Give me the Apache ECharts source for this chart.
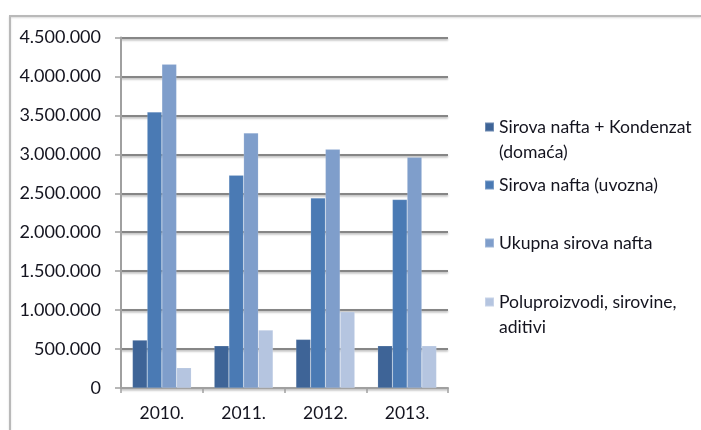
<!DOCTYPE html>
<html>
<head>
<meta charset="utf-8">
<script src="https://cdn.jsdelivr.net/npm/echarts@6/dist/echarts.min.js"></script>
<style>html,body{margin:0;padding:0;background:#fff}#c{width:701px;height:430px}</style>
</head>
<body>
<div id="c"></div>
<script>
var categories = ['2010.', '2011.', '2012.', '2013.'];
var seriesNames = ['Sirova nafta + Kondenzat (domaća)', 'Sirova nafta (uvozna)', 'Ukupna sirova nafta', 'Poluproizvodi, sirovine, aditivi'];
var domaca = [615000, 542000, 624000, 542000];
var uvozna = [3542000, 2731000, 2440000, 2419000];
var ukupna = [4157000, 3273000, 3064000, 2961000];
var poluproizvodi = [260000, 744000, 978000, 542000];
var legendLabels = ['Sirova nafta + Kondenzat\n(domaća)', 'Sirova nafta (uvozna)', 'Ukupna sirova nafta', 'Poluproizvodi, sirovine,\naditivi'];
var colors = ['#3e6497', '#4a7ab4', '#7f9ecb', '#b5c5e0'];

var FONT = 'Lato';
var TEXT = '#14141f';
var allData = [domaca, uvozna, ukupna, poluproizvodi];

function fmt(v) {
  return String(v).replace(/\B(?=(\d{3})+(?!\d))/g, '.');
}

// icon: square at top, with an invisible tiny anchor lower down so the
// square lines up with the first of two text lines
var twoLineIcon = 'path://M0,0h9v9h-9z M0,34h0.01v0.01h-0.01z';

var legendTops = [127, 185, 243, 302];
var legends = seriesNames.map(function (n, i) {
  var twoLine = legendLabels[i].indexOf('\n') >= 0;
  return {
    data: [{ name: n, icon: twoLine ? twoLineIcon : 'rect' }],
    left: 484,
    top: legendTops[i] - 12.5,
    orient: 'vertical',
    itemWidth: 9,
    itemHeight: twoLine ? 34.01 : 9,
    itemGap: 0,
    padding: 0,
    selectedMode: false,
    formatter: function () { return legendLabels[i]; },
    textStyle: { fontFamily: FONT, fontSize: 17.6, color: TEXT, lineHeight: 25 }
  };
});

var chart = echarts.init(document.getElementById('c'), null, { renderer: 'canvas' });
chart.setOption({
  animation: false,
  backgroundColor: '#ffffff',
  color: colors,
  graphic: [{
    type: 'polyline',
    shape: { points: [[10, 430], [10, 16], [701, 16]] },
    style: { stroke: '#b9b9b9', lineWidth: 2, fill: null, shadowColor: 'rgba(0,0,0,0.15)', shadowBlur: 2, shadowOffsetY: 1 }
  }],
  legend: legends,
  grid: { left: 121, top: 37.5, right: 253, bottom: 42, containLabel: false },
  xAxis: {
    type: 'category',
    data: categories,
    axisLine: { lineStyle: { color: '#a0a0a0', width: 2 } },
    axisTick: { show: true, length: 5, lineStyle: { color: '#a0a0a0', width: 1.5 } },
    axisLabel: { fontFamily: FONT, fontSize: 17.5, color: TEXT, margin: 16 }
  },
  yAxis: {
    type: 'value',
    min: 0, max: 4500000, interval: 500000,
    axisLine: { show: true, lineStyle: { color: '#a0a0a0', width: 2 } },
    axisTick: { show: true, length: 6, lineStyle: { color: '#a0a0a0', width: 1.5 } },
    splitLine: { lineStyle: { color: '#868686', width: 1.8, shadowColor: 'rgba(0,0,0,0.3)', shadowBlur: 2, shadowOffsetY: 1.5 } },
    axisLabel: { fontFamily: FONT, fontSize: 18, color: TEXT, margin: 20, formatter: fmt }
  },
  series: allData.map(function (d, i) {
    return {
      name: seriesNames[i],
      type: 'bar',
      data: d,
      barGap: '0%',
      barCategoryGap: '28%',
      itemStyle: { color: colors[i], borderColor: 'rgba(255,255,255,0.25)', borderWidth: 0.5 }
    };
  })
});
</script>
</body>
</html>
